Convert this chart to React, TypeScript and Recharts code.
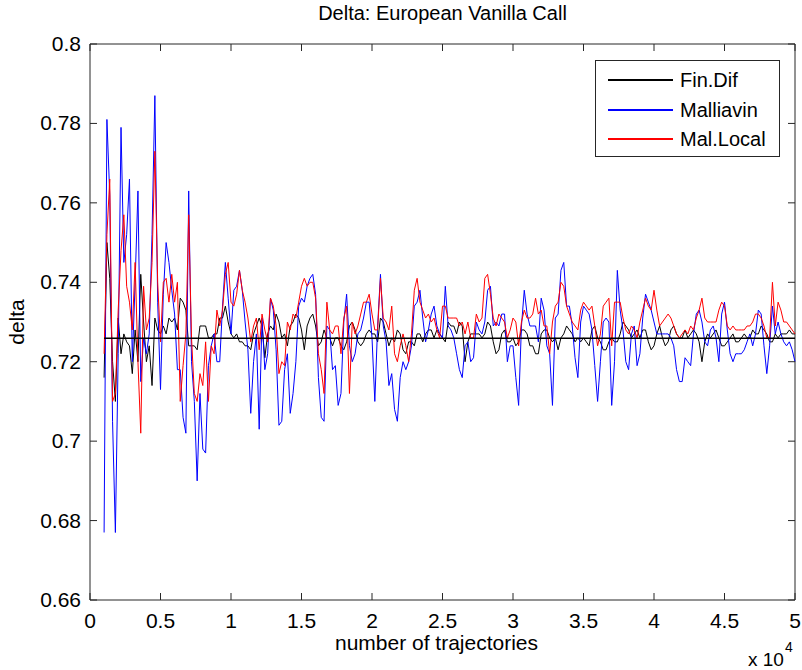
import React from 'react';
import { LineChart, Line, XAxis, YAxis, ReferenceArea, Legend, Label } from 'recharts';

// ---------- data ----------
const trajectories: number[] = Array.from({ length: 246 }, (_, i) => 1000 + 200 * i);

const finDif: number[] = [
  0.716, 0.75, 0.741, 0.72, 0.71, 0.731, 0.722, 0.727, 0.725, 0.724, 0.717, 0.728, 0.72, 0.742, 0.73, 0.72, 0.724, 0.714, 0.731, 0.728, 0.727,
  0.729, 0.727, 0.731, 0.73, 0.731, 0.728,
  0.736, 0.735, 0.733, 0.724, 0.724, 0.724, 0.723, 0.729, 0.729, 0.729, 0.726, 0.726, 0.727, 0.727, 0.731, 0.731, 0.734, 0.73, 0.727, 0.726, 0.727, 0.725, 0.725, 0.724, 0.724, 0.723, 0.727, 0.729, 0.731, 0.729, 0.721, 0.727, 0.729, 0.728, 0.732, 0.73,
  0.726, 0.727, 0.724, 0.729, 0.73, 0.732, 0.731, 0.728, 0.723, 0.729, 0.731, 0.732, 0.729, 0.724, 0.725, 0.728, 0.726, 0.726, 0.724, 0.726, 0.726, 0.724, 0.723, 0.725, 0.729, 0.73, 0.728, 0.725, 0.724, 0.725, 0.727, 0.728, 0.727, 0.727, 0.725,
  0.731, 0.73, 0.727, 0.724, 0.726, 0.725, 0.728, 0.727, 0.723, 0.722, 0.725, 0.725, 0.724, 0.727, 0.727, 0.725, 0.727, 0.728, 0.728, 0.726, 0.728, 0.727, 0.726, 0.725, 0.73, 0.729, 0.729, 0.727, 0.73, 0.729, 0.72, 0.725, 0.727, 0.727, 0.727, 0.727,
  0.726, 0.727, 0.73, 0.729, 0.725, 0.722, 0.723, 0.727, 0.728, 0.725, 0.725, 0.726, 0.724, 0.725, 0.728, 0.728, 0.727, 0.724, 0.724, 0.722, 0.722, 0.727, 0.728, 0.728, 0.726, 0.725, 0.726, 0.723, 0.726, 0.727, 0.729, 0.728, 0.727, 0.725, 0.726,
  0.725, 0.726, 0.725, 0.724, 0.728, 0.729, 0.726, 0.725, 0.723, 0.723, 0.725, 0.726, 0.725, 0.725, 0.727, 0.73, 0.729, 0.728, 0.726, 0.727, 0.728, 0.726, 0.728, 0.728, 0.725, 0.723, 0.724, 0.727, 0.729, 0.726, 0.724, 0.725, 0.728, 0.729, 0.727, 0.726,
  0.726, 0.728, 0.726, 0.727, 0.728, 0.727, 0.725, 0.72, 0.725, 0.727, 0.726, 0.727, 0.728, 0.726, 0.724, 0.724, 0.725, 0.726, 0.727, 0.725, 0.725, 0.726, 0.727, 0.726, 0.726, 0.728, 0.727, 0.727, 0.729, 0.728, 0.727, 0.725, 0.725, 0.727, 0.726, 0.727, 0.727, 0.727, 0.728, 0.727, 0.727,
];

const malliavin: number[] = [
  0.677, 0.781, 0.762, 0.705, 0.677, 0.722, 0.779, 0.745, 0.752, 0.766, 0.72, 0.74, 0.763, 0.715, 0.726, 0.722, 0.727, 0.752, 0.787, 0.735, 0.713,
  0.737, 0.75, 0.745, 0.738, 0.732, 0.718,
  0.718, 0.706, 0.702, 0.763, 0.72, 0.71, 0.69, 0.712, 0.698, 0.697, 0.719, 0.724, 0.727, 0.72, 0.72, 0.734, 0.745, 0.736, 0.727, 0.738, 0.739, 0.743, 0.738, 0.73, 0.723, 0.707, 0.72, 0.727, 0.703, 0.731, 0.718, 0.722, 0.736, 0.733, 0.723, 0.704,
  0.705, 0.718, 0.722, 0.707, 0.712, 0.72, 0.734, 0.736, 0.735, 0.739, 0.741, 0.742, 0.737, 0.716, 0.706, 0.705, 0.729, 0.728, 0.718, 0.719, 0.709, 0.712, 0.73, 0.737, 0.724, 0.72, 0.722, 0.727, 0.728, 0.731, 0.735, 0.735, 0.726, 0.71, 0.729,
  0.742, 0.729, 0.725, 0.714, 0.717, 0.708, 0.705, 0.716, 0.72, 0.718, 0.72, 0.724, 0.734, 0.735, 0.738, 0.731, 0.725, 0.728, 0.732, 0.734, 0.729, 0.727, 0.726, 0.739, 0.729, 0.728, 0.726, 0.722, 0.718, 0.716, 0.724, 0.725, 0.72, 0.721, 0.73, 0.728,
  0.727, 0.73, 0.738, 0.739, 0.729, 0.73, 0.729, 0.732, 0.732, 0.72, 0.724, 0.724, 0.716, 0.709, 0.729, 0.738, 0.732, 0.729, 0.729, 0.729, 0.725, 0.736, 0.733, 0.724, 0.722, 0.709, 0.731, 0.732, 0.743, 0.745, 0.734, 0.734, 0.729, 0.721, 0.716,
  0.73, 0.734, 0.733, 0.732, 0.728, 0.719, 0.71, 0.72, 0.73, 0.731, 0.73, 0.709, 0.72, 0.743, 0.733, 0.728, 0.72, 0.718, 0.727, 0.729, 0.719, 0.722, 0.731, 0.737, 0.735, 0.733, 0.73, 0.727, 0.727, 0.727, 0.727, 0.727, 0.726, 0.724, 0.718, 0.715,
  0.715, 0.721, 0.72, 0.719, 0.727, 0.732, 0.733, 0.73, 0.725, 0.724, 0.728, 0.729, 0.726, 0.72, 0.732, 0.735, 0.728, 0.722, 0.72, 0.722, 0.722, 0.722, 0.723, 0.725, 0.727, 0.724, 0.727, 0.733, 0.732, 0.724, 0.717, 0.724, 0.734, 0.727, 0.73, 0.727, 0.725, 0.724, 0.725, 0.723, 0.72,
];

const malLocal: number[] = [
  0.722, 0.752, 0.766, 0.71, 0.712, 0.733, 0.748, 0.757, 0.739, 0.735, 0.728, 0.745, 0.72, 0.702, 0.739, 0.728, 0.731, 0.745, 0.773, 0.74, 0.725,
  0.74, 0.741, 0.735, 0.742, 0.735, 0.74,
  0.71, 0.719, 0.727, 0.757, 0.726, 0.712, 0.71, 0.717, 0.714, 0.725, 0.71, 0.724, 0.722, 0.733, 0.729, 0.733, 0.742, 0.745, 0.735, 0.734, 0.737, 0.743, 0.738, 0.735, 0.731, 0.725, 0.729, 0.731, 0.723, 0.732, 0.728, 0.725, 0.736, 0.734, 0.729, 0.717,
  0.72, 0.719, 0.73, 0.728, 0.732, 0.731, 0.735, 0.739, 0.741, 0.739, 0.74, 0.74, 0.736, 0.722, 0.718, 0.712, 0.735, 0.728, 0.727, 0.729, 0.729, 0.722, 0.731, 0.734, 0.712, 0.73, 0.727, 0.729, 0.732, 0.735, 0.735, 0.737, 0.732, 0.728, 0.728,
  0.741, 0.731, 0.73, 0.728, 0.734, 0.722, 0.72, 0.724, 0.727, 0.724, 0.72, 0.727, 0.738, 0.741, 0.735, 0.733, 0.731, 0.732, 0.73, 0.731, 0.728, 0.726, 0.734, 0.734, 0.731, 0.731, 0.731, 0.731, 0.729, 0.73, 0.727, 0.73, 0.726, 0.726, 0.732, 0.73,
  0.731, 0.741, 0.742, 0.737, 0.731, 0.729, 0.732, 0.731, 0.73, 0.726, 0.728, 0.731, 0.73, 0.724, 0.73, 0.733, 0.731, 0.731, 0.732, 0.736, 0.732, 0.733, 0.729, 0.729, 0.722, 0.73, 0.734, 0.735, 0.74, 0.739, 0.734, 0.732, 0.73, 0.729, 0.728,
  0.733, 0.735, 0.734, 0.733, 0.734, 0.729, 0.724, 0.727, 0.734, 0.735, 0.736, 0.724, 0.735, 0.735, 0.735, 0.731, 0.728, 0.727, 0.729, 0.728, 0.726, 0.73, 0.733, 0.736, 0.734, 0.733, 0.738, 0.733, 0.729, 0.73, 0.731, 0.732, 0.731, 0.729, 0.727, 0.726,
  0.727, 0.728, 0.727, 0.729, 0.728, 0.731, 0.733, 0.736, 0.731, 0.73, 0.73, 0.73, 0.73, 0.733, 0.735, 0.734, 0.729, 0.728, 0.729, 0.728, 0.728, 0.728, 0.728, 0.729, 0.729, 0.73, 0.732, 0.732, 0.731, 0.729, 0.726, 0.726, 0.74, 0.729, 0.735, 0.733, 0.73, 0.73, 0.729, 0.728, 0.727,
];

const exactDelta = 0.7259;

const xTicks: number[] = [0, 5000, 10000, 15000, 20000, 25000, 30000, 35000, 40000, 45000, 50000];
const xTickLabels: string[] = ['0', '0.5', '1', '1.5', '2', '2.5', '3', '3.5', '4', '4.5', '5'];
const yTicks: number[] = [0.66, 0.68, 0.7, 0.72, 0.74, 0.76, 0.78, 0.8];
const yTickLabels: string[] = ['0.66', '0.68', '0.7', '0.72', '0.74', '0.76', '0.78', '0.8'];

const seriesNames: string[] = ['Fin.Dif', 'Malliavin', 'Mal.Local'];
const seriesColors: string[] = ['#000000', '#0000ff', '#ff0000'];
const titleText = 'Delta: European Vanilla Call';
const xLabelText = 'number of trajectories';
const yLabelText = 'delta';

const data = trajectories.map((t, i) => ({
  t,
  finDif: finDif[i],
  malliavin: malliavin[i],
  malLocal: malLocal[i],
  exact: exactDelta,
}));

// ---------- layout ----------
const W = 802;
const H = 670;
const PLOT_LEFT = 90;
const PLOT_RIGHT = 795;
const PLOT_TOP = 44;
const PLOT_BOTTOM = 600;
const TICK = 7;
const AX = '#262626';
const FONT = "'Liberation Sans', Arial, Helvetica, sans-serif";
const FS = 21;

const XTick = (props: any) => {
  const { x, payload } = props;
  const idx = xTicks.indexOf(payload.value);
  return (
    <g>
      <line x1={x} x2={x} y1={PLOT_BOTTOM} y2={PLOT_BOTTOM - TICK} stroke={AX} />
      <line x1={x} x2={x} y1={PLOT_TOP} y2={PLOT_TOP + TICK} stroke={AX} />
      <text x={x} y={PLOT_BOTTOM + 28} textAnchor="middle" fontSize={FS} fontFamily={FONT} fill="#000">
        {idx >= 0 ? xTickLabels[idx] : ''}
      </text>
    </g>
  );
};

const YTick = (props: any) => {
  const { y, payload } = props;
  const idx = yTicks.findIndex((v) => Math.abs(v - payload.value) < 1e-9);
  return (
    <g>
      <line x1={PLOT_LEFT} x2={PLOT_LEFT + TICK} y1={y} y2={y} stroke={AX} />
      <line x1={PLOT_RIGHT} x2={PLOT_RIGHT - TICK} y1={y} y2={y} stroke={AX} />
      <text x={PLOT_LEFT - 9} y={y + 7} textAnchor="end" fontSize={FS} fontFamily={FONT} fill="#000">
        {idx >= 0 ? yTickLabels[idx] : ''}
      </text>
    </g>
  );
};

const XLabel = (props: any) => {
  const vb = props.viewBox || { x: PLOT_LEFT, width: PLOT_RIGHT - PLOT_LEFT };
  return (
    <g>
      <text x={vb.x + vb.width / 2 - 6} y={650} textAnchor="middle" fontSize={FS} fontFamily={FONT} fill="#000">
        {xLabelText}
      </text>
      <text x={748} y={666} textAnchor="start" fontSize={19} fontFamily={FONT} fill="#000">
        x 10
      </text>
      <text x={785} y={652} textAnchor="start" fontSize={14} fontFamily={FONT} fill="#000">
        4
      </text>
    </g>
  );
};

const YLabel = () => (
  <text
    x={24}
    y={(PLOT_TOP + PLOT_BOTTOM) / 2}
    transform={`rotate(-90 24 ${(PLOT_TOP + PLOT_BOTTOM) / 2})`}
    textAnchor="middle"
    fontSize={FS}
    fontFamily={FONT}
    fill="#000"
  >
    {yLabelText}
  </text>
);

const LegendBox = () => (
  <div
    style={{
      width: 185,
      height: 97,
      boxSizing: 'border-box',
      border: `1px solid ${AX}`,
      background: '#fff',
      position: 'relative',
      fontFamily: FONT,
      fontSize: 20,
      color: '#000',
    }}
  >
    {seriesNames.map((name, i) => (
      <div key={name} style={{ position: 'absolute', left: 0, top: 6 + i * 29.5, height: 26, width: '100%' }}>
        <div style={{ position: 'absolute', left: 12, top: 12, width: 65, height: 2, background: seriesColors[i] }} />
        <div style={{ position: 'absolute', left: 84, top: 0, lineHeight: '26px', whiteSpace: 'nowrap' }}>{name}</div>
      </div>
    ))}
  </div>
);

export default function App() {
  return (
    <div style={{ position: 'absolute', left: 0, top: 0, width: W, height: H, background: '#fff' }}>
      <div
        style={{
          position: 'absolute',
          left: PLOT_LEFT,
          width: PLOT_RIGHT - PLOT_LEFT,
          top: 0,
          textAlign: 'center',
          fontFamily: FONT,
          fontSize: 20,
          lineHeight: '26px',
          color: '#000',
        }}
      >
        {titleText}
      </div>
      <LineChart
        width={W}
        height={H}
        data={data}
        margin={{ top: PLOT_TOP, right: W - PLOT_RIGHT, bottom: 40, left: PLOT_LEFT - 60 }}
      >
        <XAxis
          dataKey="t"
          type="number"
          domain={[0, 50000]}
          ticks={xTicks}
          tick={<XTick />}
          tickLine={false}
          axisLine={false}
          tickSize={0}
          tickMargin={0}
          height={30}
          interval={0}
        >
          <Label content={<XLabel />} />
        </XAxis>
        <YAxis
          type="number"
          domain={[0.66, 0.8]}
          ticks={yTicks}
          tick={<YTick />}
          tickLine={false}
          axisLine={false}
          tickSize={0}
          tickMargin={0}
          width={60}
          interval={0}
          allowDataOverflow
        >
          <Label content={<YLabel />} />
        </YAxis>
        <ReferenceArea x1={0} x2={50000} y1={0.66} y2={0.8} fill="none" fillOpacity={0} stroke={AX} strokeWidth={1} ifOverflow="visible" />
        <Line dataKey="finDif" name={seriesNames[0]} stroke={seriesColors[0]} strokeWidth={1} dot={false} isAnimationActive={false} type="linear" />
        <Line dataKey="malliavin" name={seriesNames[1]} stroke={seriesColors[1]} strokeWidth={1} dot={false} isAnimationActive={false} type="linear" />
        <Line dataKey="malLocal" name={seriesNames[2]} stroke={seriesColors[2]} strokeWidth={1} dot={false} isAnimationActive={false} type="linear" />
        <Line dataKey="exact" legendType="none" stroke="#000" strokeWidth={1.5} dot={false} isAnimationActive={false} type="linear" />
        <Legend
          layout="vertical"
          align="center"
          verticalAlign="middle"
          content={<LegendBox />}
          wrapperStyle={{ left: 595, top: 60, width: 185, height: 97 }}
        />
      </LineChart>
    </div>
  );
}
